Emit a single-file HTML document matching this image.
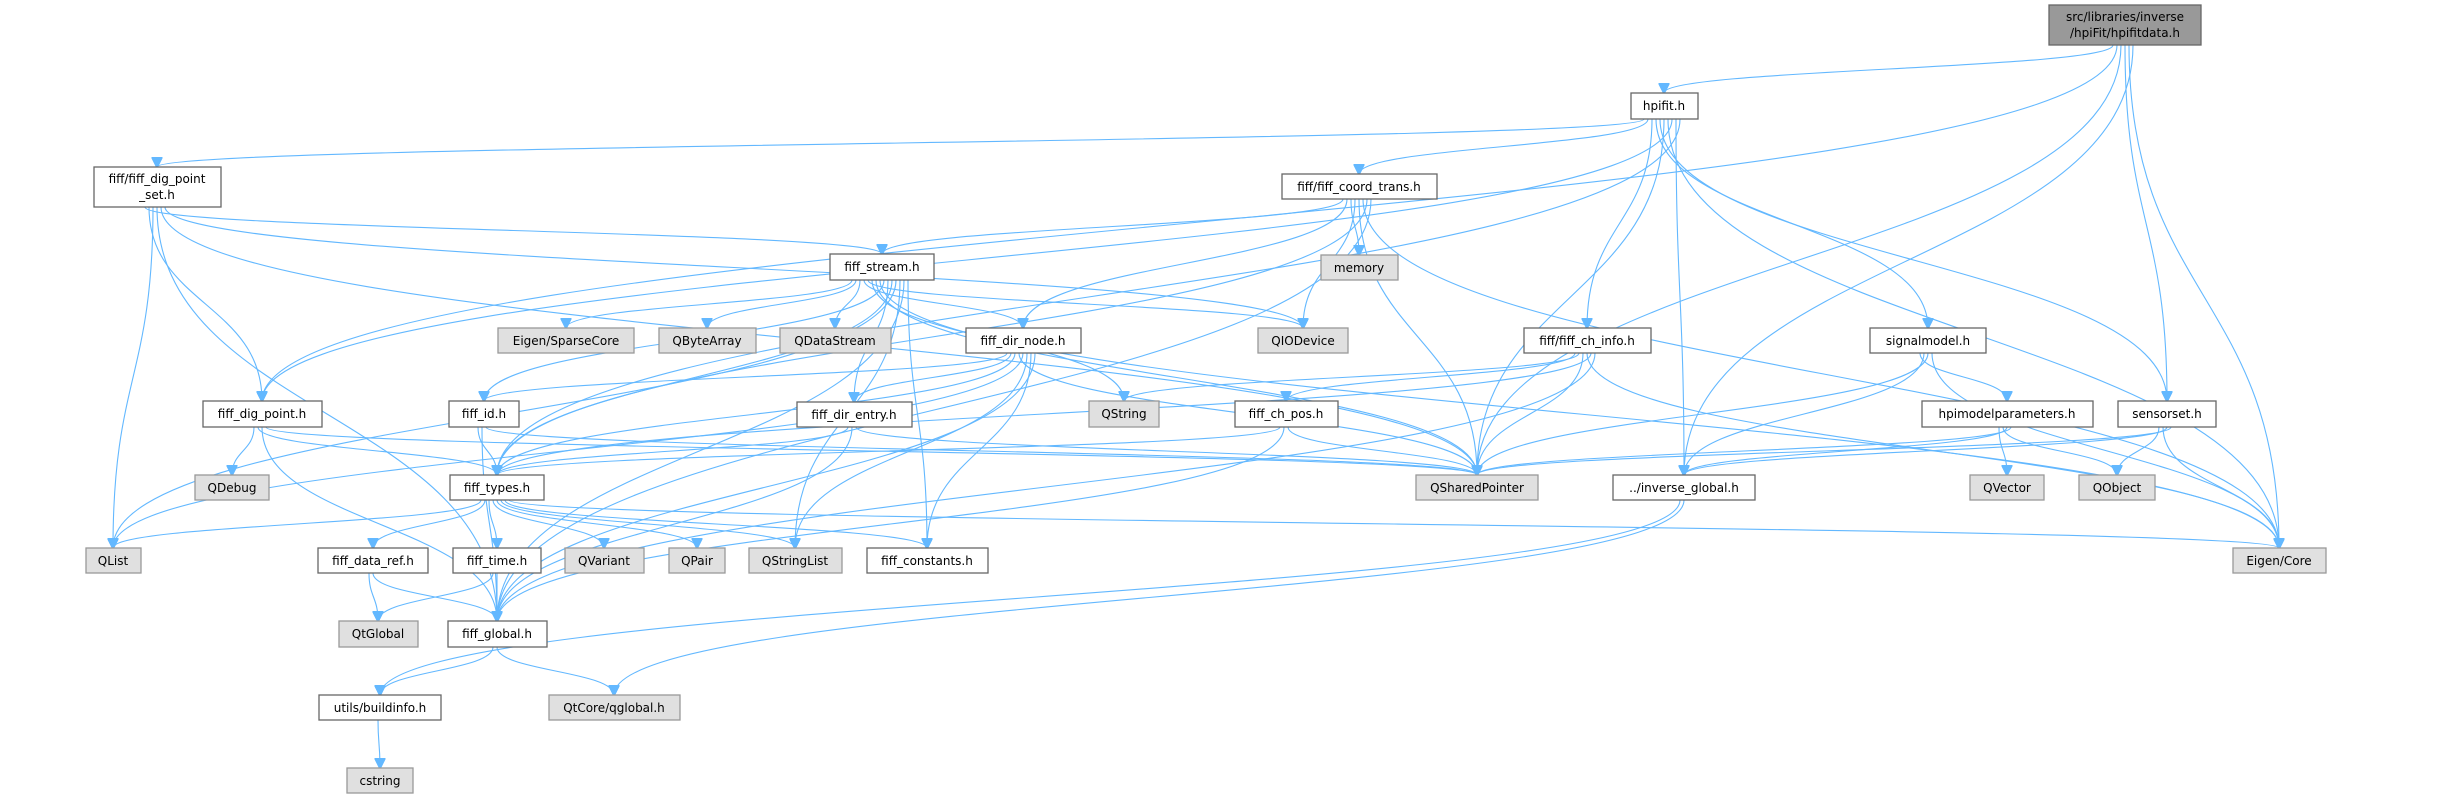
<!DOCTYPE html>
<html><head><meta charset="utf-8"><style>
html,body{margin:0;padding:0;background:#fff;}
svg{display:block}
text{font-family:"DejaVu Sans","Liberation Sans",sans-serif;font-size:12px;fill:#000;text-anchor:middle;}
.n{fill:#fff;stroke:#666;stroke-width:1.3}
.g{fill:#e0e0e0;stroke:#999;stroke-width:1.3}
.m{fill:#999;stroke:#666;stroke-width:1.3}
#E path{fill:none;stroke:#63b8ff;stroke-width:1.1}
</style></head><body>
<svg id="s" width="2459" height="799" viewBox="0 0 2459 799" xmlns="http://www.w3.org/2000/svg">
<defs><marker id="a" viewBox="0 0 10 10" refX="9" refY="5" markerWidth="11" markerHeight="11" markerUnits="userSpaceOnUse" orient="auto"><path d="M0,0 L10,5 L0,10 z" fill="#63b8ff" stroke="#63b8ff"/></marker></defs>
<g id="E"></g>
<g id="N">
<rect class="m" x="2049" y="5" width="152" height="40"/><text x="2125" y="21">src/libraries/inverse</text><text x="2125" y="37">/hpiFit/hpifitdata.h</text>
<rect class="n" x="1631" y="93" width="67" height="26"/><text x="1664" y="110">hpifit.h</text>
<rect class="n" x="94" y="167" width="127" height="40"/><text x="157" y="183">fiff/fiff_dig_point</text><text x="157" y="199">_set.h</text>
<rect class="n" x="1282" y="174" width="155" height="25"/><text x="1359" y="191">fiff/fiff_coord_trans.h</text>
<rect class="n" x="830" y="254" width="104" height="26"/><text x="882" y="271">fiff_stream.h</text>
<rect class="g" x="1321" y="255" width="77" height="25"/><text x="1359" y="272">memory</text>
<rect class="g" x="498" y="328" width="136" height="25"/><text x="566" y="345">Eigen/SparseCore</text>
<rect class="g" x="659" y="328" width="97" height="25"/><text x="707" y="345">QByteArray</text>
<rect class="g" x="780" y="328" width="111" height="25"/><text x="835" y="345">QDataStream</text>
<rect class="n" x="966" y="328" width="115" height="25"/><text x="1023" y="345">fiff_dir_node.h</text>
<rect class="g" x="1258" y="328" width="90" height="25"/><text x="1303" y="345">QIODevice</text>
<rect class="n" x="1524" y="328" width="127" height="25"/><text x="1587" y="345">fiff/fiff_ch_info.h</text>
<rect class="n" x="1870" y="328" width="116" height="25"/><text x="1928" y="345">signalmodel.h</text>
<rect class="n" x="203" y="401" width="119" height="26"/><text x="262" y="418">fiff_dig_point.h</text>
<rect class="n" x="449" y="401" width="70" height="26"/><text x="484" y="418">fiff_id.h</text>
<rect class="n" x="797" y="402" width="115" height="25"/><text x="854" y="419">fiff_dir_entry.h</text>
<rect class="g" x="1089" y="401" width="70" height="26"/><text x="1124" y="418">QString</text>
<rect class="n" x="1235" y="401" width="103" height="26"/><text x="1286" y="418">fiff_ch_pos.h</text>
<rect class="n" x="1922" y="401" width="171" height="26"/><text x="2007" y="418">hpimodelparameters.h</text>
<rect class="n" x="2118" y="401" width="98" height="26"/><text x="2167" y="418">sensorset.h</text>
<rect class="g" x="195" y="475" width="74" height="25"/><text x="232" y="492">QDebug</text>
<rect class="n" x="450" y="475" width="94" height="25"/><text x="497" y="492">fiff_types.h</text>
<rect class="g" x="1416" y="475" width="122" height="25"/><text x="1477" y="492">QSharedPointer</text>
<rect class="n" x="1613" y="475" width="142" height="25"/><text x="1684" y="492">../inverse_global.h</text>
<rect class="g" x="1970" y="475" width="74" height="25"/><text x="2007" y="492">QVector</text>
<rect class="g" x="2079" y="475" width="76" height="25"/><text x="2117" y="492">QObject</text>
<rect class="g" x="86" y="548" width="55" height="25"/><text x="113" y="565">QList</text>
<rect class="n" x="318" y="548" width="110" height="25"/><text x="373" y="565">fiff_data_ref.h</text>
<rect class="n" x="453" y="548" width="88" height="25"/><text x="497" y="565">fiff_time.h</text>
<rect class="g" x="565" y="548" width="79" height="25"/><text x="604" y="565">QVariant</text>
<rect class="g" x="669" y="548" width="56" height="25"/><text x="697" y="565">QPair</text>
<rect class="g" x="749" y="548" width="93" height="25"/><text x="795" y="565">QStringList</text>
<rect class="n" x="867" y="548" width="121" height="25"/><text x="927" y="565">fiff_constants.h</text>
<rect class="g" x="2233" y="548" width="93" height="25"/><text x="2279" y="565">Eigen/Core</text>
<rect class="g" x="339" y="621" width="79" height="26"/><text x="378" y="638">QtGlobal</text>
<rect class="n" x="448" y="621" width="99" height="26"/><text x="497" y="638">fiff_global.h</text>
<rect class="n" x="319" y="695" width="122" height="25"/><text x="380" y="712">utils/buildinfo.h</text>
<rect class="g" x="549" y="695" width="131" height="25"/><text x="614" y="712">QtCore/qglobal.h</text>
<rect class="g" x="347" y="768" width="66" height="25"/><text x="380" y="785">cstring</text>
</g>
</svg>
<script>
var N={main:[2125,5,45],hpifit:[1664,93,119],dps:[157,167,207],coord:[1359,174,199],stream:[882,254,280],memory:[1359,255,280],sparse:[566,328,353],qba:[707,328,353],qds:[835,328,353],dirnode:[1023,328,353],qio:[1303,328,353],chinfo:[1587,328,353],signal:[1928,328,353],digp:[262,401,427],fid:[484,401,427],dentry:[854,402,427],qstr:[1124,401,427],chpos:[1286,401,427],hpim:[2007,401,427],sens:[2167,401,427],qdebug:[232,475,500],types:[497,475,500],qsp:[1477,475,500],invg:[1684,475,500],qvec:[2007,475,500],qobj:[2117,475,500],qlist:[113,548,573],dref:[373,548,573],time:[497,548,573],qvar:[604,548,573],qpair:[697,548,573],qsl:[795,548,573],const:[927,548,573],eigen:[2279,548,573],qtg:[378,621,647],glob:[497,621,647],build:[380,695,720],qgl:[614,695,720],cstr:[380,768,793]};
var E={main:['hpifit','digp','qsp','sens','eigen','invg'],
hpifit:['dps','coord','chinfo','signal','sens','qsp','eigen','digp','invg','types'],
dps:['stream','digp','qlist','glob','qsp','qio'],
coord:['stream','dirnode','memory','qio','qsp','eigen','types','glob'],
stream:['sparse','qba','qds','dirnode','qio','qstr','qsp','eigen','fid','dentry','types','qlist','qsl','glob','const'],
dirnode:['fid','dentry','types','qsp','qlist','qsl','const','glob'],
chinfo:['chpos','qstr','qsp','eigen','types','glob'],
signal:['hpim','invg','qsp','eigen'],
hpim:['qvec','qobj','invg','qsp'],
sens:['qobj','eigen','invg','qsp'],
digp:['qdebug','types','glob','qsp'],
fid:['types','glob','qsp'],
dentry:['types','glob','qsp'],
chpos:['types','glob','qsp'],
types:['qlist','dref','time','qvar','qpair','qsl','const','eigen'],
dref:['qtg','glob'],time:['qtg','glob'],
glob:['build','qgl'],build:['cstr'],invg:['build','qgl']};
var g=document.getElementById('E'),h='';
for(var s in E){E[s].forEach(function(t,i){var a=N[s],b=N[t];var x1=a[0]+(i-E[s].length/2)*4,y1=a[2],x2=b[0],y2=b[1];
if(b[1]<=a[2]){y2=b[2];}
var d=Math.max(20,Math.abs(y2-y1)*0.5);
h+='<path marker-end="url(#a)" d="M'+x1+','+y1+' C'+x1+','+(y1+d)+' '+x2+','+(y2-d)+' '+x2+','+y2+'"/>';});}
g.innerHTML=h;
</script>
</body></html>
